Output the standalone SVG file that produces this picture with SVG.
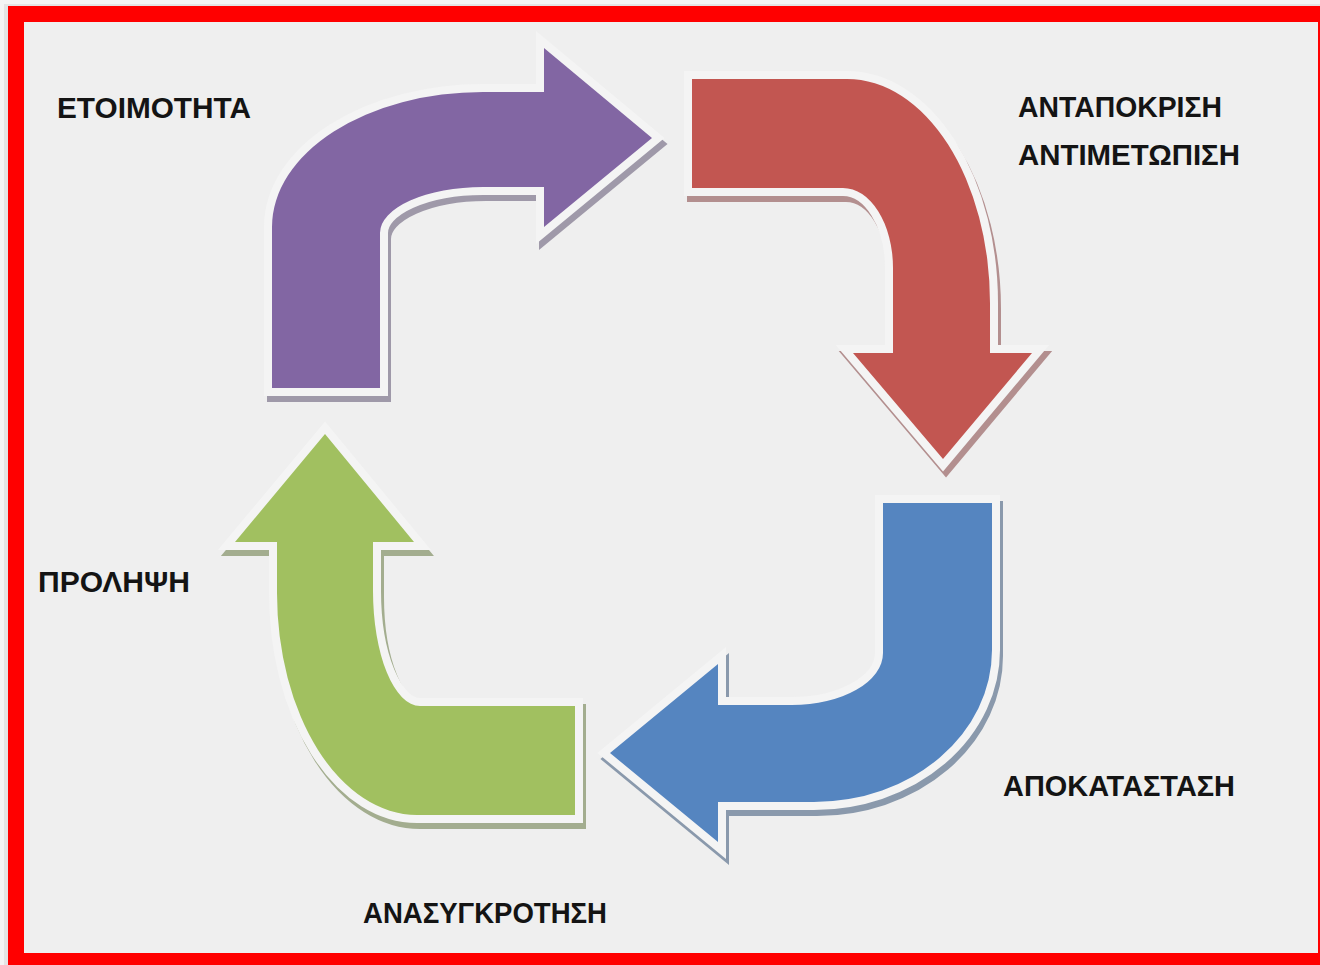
<svg xmlns="http://www.w3.org/2000/svg" width="1320" height="965" viewBox="0 0 1320 965">
<style>
.lbl{font-family:"Liberation Sans",Arial,sans-serif;font-weight:bold;font-size:29px;fill:#141414}
.out{stroke:#f4f4f4;stroke-width:16;stroke-linejoin:miter;stroke-miterlimit:10;paint-order:stroke fill}
.sh{stroke-width:16;stroke-linejoin:miter;stroke-miterlimit:10}
</style>
<defs>
<path id="pPurple" d="M272,388 L272,227 A211,135 0 0 1 483,92 L544,92 L544,48 L652,138 L544,227 L544,187 L483,187 A103,46 0 0 0 380,233 L380,388 Z"/>
<path id="pRed" d="M692,79 L847,79 A143,224 0 0 1 990,303 L990,353 L1032,353 L943,459 L853,353 L893,353 L893,268 A50,80 0 0 0 843,188 L692,188 Z"/>
<path id="pBlue" d="M883,503 L992,503 L992,650 A178,152 0 0 1 814,802 L718,802 L718,842 L610,753 L718,664 L718,705 L792,705 A91,52 0 0 0 883,653 Z"/>
<path id="pGreen" d="M575,706 L575,815 L417,815 A140,222 0 0 1 277,593 L277,542 L235,542 L325,434 L414,542 L373,542 L373,591 A47,115 0 0 0 420,706 Z"/>
</defs>
<rect x="0" y="0" width="1320" height="965" fill="#f4f4f4"/>
<rect x="4" y="4" width="1330" height="965" fill="#d8d8d8" opacity="0.6"/>
<rect x="16" y="14" width="1310" height="947" fill="#efefef" stroke="#ff0000" stroke-width="16"/>
<g id="connectors">
<g id="arrow-purple">
<use href="#pPurple" class="sh" transform="translate(3,6)" fill="#9f99a9" stroke="#9f99a9"/>
<use href="#pPurple" class="out" fill="#8266a3"/>
</g>
<g id="arrow-red">
<use href="#pRed" class="sh" transform="translate(3,6)" fill="#b38f8f" stroke="#b38f8f"/>
<use href="#pRed" class="out" fill="#c25651"/>
</g>
<g id="arrow-blue">
<use href="#pBlue" class="sh" transform="translate(3,6)" fill="#8a99ac" stroke="#8a99ac"/>
<use href="#pBlue" class="out" fill="#5585c0"/>
</g>
<g id="arrow-green">
<use href="#pGreen" class="sh" transform="translate(3,6)" fill="#a3ad8f" stroke="#a3ad8f"/>
<use href="#pGreen" class="out" fill="#a1c060"/>
</g>
</g>
<g id="node-etoimotita"><text class="lbl" x="57" y="118" textLength="194" lengthAdjust="spacingAndGlyphs">ΕΤΟΙΜΟΤΗΤΑ</text></g>
<g id="node-antapokrisi">
<text class="lbl" x="1018" y="117" textLength="204" lengthAdjust="spacingAndGlyphs">ΑΝΤΑΠΟΚΡΙΣΗ</text>
<text class="lbl" x="1018" y="165" textLength="222" lengthAdjust="spacingAndGlyphs">ΑΝΤΙΜΕΤΩΠΙΣΗ</text>
</g>
<g id="node-apokatastasi"><text class="lbl" x="1003" y="796" textLength="232" lengthAdjust="spacingAndGlyphs">ΑΠΟΚΑΤΑΣΤΑΣΗ</text></g>
<g id="node-anasygkrotisi"><text class="lbl" x="363" y="923" textLength="244" lengthAdjust="spacingAndGlyphs">ΑΝΑΣΥΓΚΡΟΤΗΣΗ</text></g>
<g id="node-prolipsi"><text class="lbl" x="38" y="592" textLength="152" lengthAdjust="spacingAndGlyphs">ΠΡΟΛΗΨΗ</text></g>
</svg>
